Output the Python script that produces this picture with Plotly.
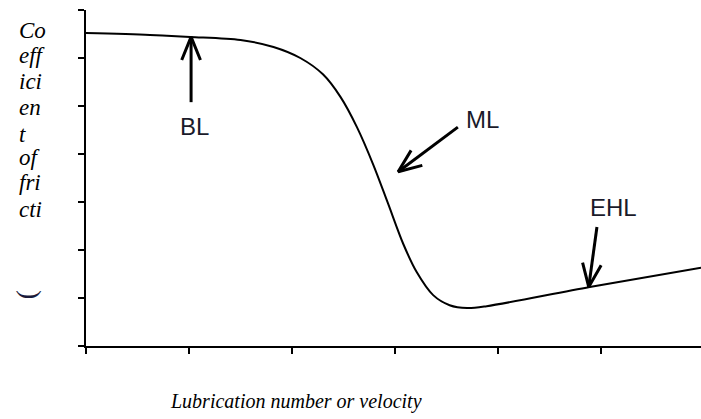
import math
import plotly.graph_objects as go

# Curve: lubrication number (x) vs coefficient of friction (y)
velocity = [0.0, 0.62, 1.01, 1.50, 1.82, 2.08, 2.30, 2.47, 2.63, 2.79, 2.93, 3.08,
            3.21, 3.37, 3.53, 3.70, 3.89, 4.89, 5.97]
friction = [6.52, 6.48, 6.44, 6.375, 6.23, 6.00, 5.66, 5.19, 4.56, 3.77, 2.98, 2.125,
            1.54, 1.06, 0.85, 0.79, 0.83, 1.23, 1.63]

x_ticks = [0, 1, 2, 3, 4, 5]
y_ticks = [0, 1, 2, 3, 4, 5, 6, 7]

# Regime labels and arrows (data coordinates)
regime_labels = ["BL", "ML", "EHL"]
label_x = [1.05, 3.85, 5.12]
label_y = [4.58, 4.71, 2.88]
arrow_tail_x = [1.02, 3.61, 4.96]
arrow_tail_y = [5.08, 4.56, 2.48]
arrow_tip_x = [1.02, 3.03, 4.88]
arrow_tip_y = [6.44, 3.63, 1.23]

y_title_lines = ["Co", "eff", "ici", "en", "t", "of", "fri", "cti"]
x_title = "Lubrication number or velocity"

W, H = 701, 419
ML, MR, MT, MB = 86, 0, 10, 73
PW, PH = W - ML - MR, H - MT - MB
x_range = [0, 5.97]
y_range = [0, 7]
px_x = PW / (x_range[1] - x_range[0])
px_y = PH / (y_range[1] - y_range[0])


def paper_x(px):
    return (px - ML) / PW


def paper_y(py):
    return (H - MB - py) / PH


fig = go.Figure()
fig.add_trace(go.Scatter(x=velocity, y=friction, mode="lines",
                         line=dict(color="black", width=2, shape="spline", smoothing=0.9),
                         hoverinfo="skip", showlegend=False))

# arrows with open V heads
ax_all, ay_all = [], []
head_len, head_ang = 25, math.radians(22)
for tx, ty, hx, hy in zip(arrow_tail_x, arrow_tail_y, arrow_tip_x, arrow_tip_y):
    dx = (tx - hx) * px_x
    dy = (ty - hy) * px_y
    d = math.hypot(dx, dy)
    ux, uy = dx / d, dy / d
    arms = []
    for s in (1, -1):
        c, sn = math.cos(s * head_ang), math.sin(s * head_ang)
        rx, ry = ux * c - uy * sn, ux * sn + uy * c
        arms.append((hx + rx * head_len / px_x, hy + ry * head_len / px_y))
    ax_all += [tx, hx, None, arms[0][0], hx, arms[1][0], None]
    ay_all += [ty, hy, None, arms[0][1], hy, arms[1][1], None]
fig.add_trace(go.Scatter(x=ax_all, y=ay_all, mode="lines",
                         line=dict(color="black", width=3),
                         hoverinfo="skip", showlegend=False))

for t, lx, ly in zip(regime_labels, label_x, label_y):
    fig.add_annotation(x=lx, y=ly, xref="x", yref="y", text=t, showarrow=False,
                       xanchor="center", yanchor="middle",
                       font=dict(family="Liberation Sans", size=24, color="#1a1a2a"))

# stacked y-axis title (one annotation per wrapped line)
baselines = [37, 63, 88, 115, 141, 164, 190, 216]
for s, b in zip(y_title_lines, baselines):
    fig.add_annotation(x=paper_x(17), y=paper_y(b - 7), xref="paper", yref="paper",
                       xanchor="left", yanchor="middle", showarrow=False,
                       text="<i>%s</i>" % s,
                       font=dict(family="Liberation Serif", size=23, color="black"))
fig.add_annotation(x=paper_x(32), y=paper_y(294), xref="paper", yref="paper",
                   xanchor="center", yanchor="middle",
                   showarrow=False, textangle=90,
                   text=")", font=dict(family="Liberation Serif", size=28, color="#1a1a3a"))
fig.add_annotation(x=paper_x(296), y=paper_y(401), xref="paper", yref="paper",
                   xanchor="center", yanchor="middle",
                   showarrow=False, text="<i>%s</i>" % x_title,
                   font=dict(family="Liberation Serif", size=20, color="black"))

axis_common = dict(showgrid=False, zeroline=False, showline=True, linecolor="black",
                   linewidth=2, ticks="outside", ticklen=6, tickwidth=2, tickcolor="black",
                   showticklabels=False)
fig.update_xaxes(range=x_range, tickvals=x_ticks, **axis_common)
fig.update_yaxes(range=y_range, tickvals=y_ticks, **axis_common)
fig.update_layout(width=W, height=H, margin=dict(l=ML, r=MR, t=MT, b=MB),
                  plot_bgcolor="white", paper_bgcolor="white", showlegend=False)
fig.write_html("out.html", config={"displayModeBar": False},
               post_script="document.body.style.margin='0';document.body.style.overflow='hidden';")
